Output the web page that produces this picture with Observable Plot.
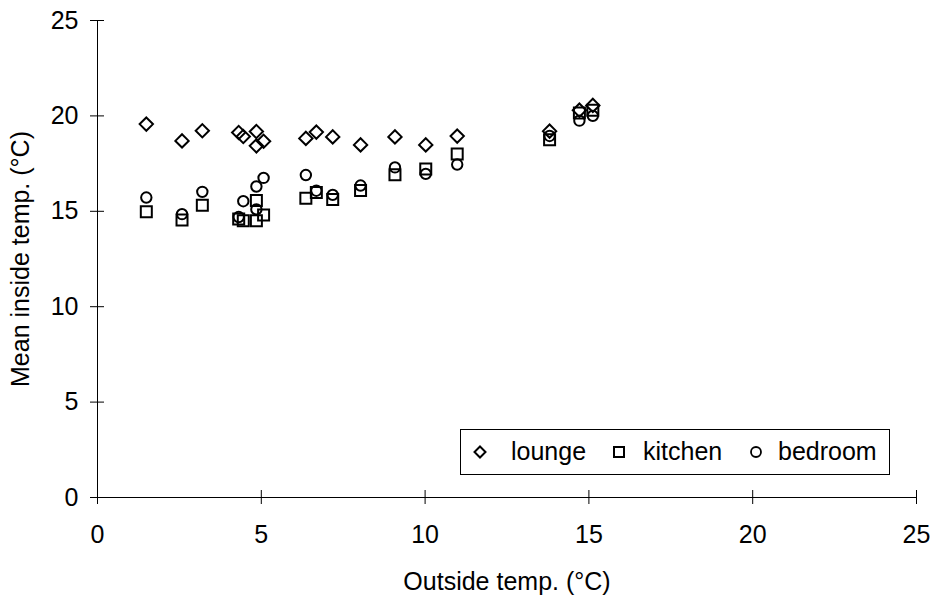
<!DOCTYPE html>
<html>
<head>
<meta charset="utf-8">
<script src="https://cdn.jsdelivr.net/npm/d3@7"></script>
<script src="https://cdn.jsdelivr.net/npm/@observablehq/plot@0.6"></script>
<style>
  body { margin: 0; background: #fff; font-family: "Liberation Sans", Arial, sans-serif; }
  #wrap { position: relative; width: 933px; height: 599px; }
  #legend { position: absolute; left: 460px; top: 429px; width: 428px; height: 44px;
    border: 1px solid #000; background: #fff; font-size: 25px; color: #000; }
  #legend .sym { position: absolute; top: 15px; width: 14px; height: 14px; }
  #legend .sym svg { display: block; }
  #legend .lab { position: absolute; top: 7px; line-height: 29px; white-space: nowrap; }
</style>
</head>
<body>
<div id="wrap"></div>
<script>
const outsideTemp = [1.49, 2.58, 3.20, 4.31, 4.45, 4.85, 4.85, 5.07, 6.36, 6.68, 7.18, 8.03, 9.08, 10.02, 10.98, 13.80, 14.71, 15.12];
const lounge      = [19.57, 18.69, 19.22, 19.13, 18.92, 19.18, 18.43, 18.67, 18.82, 19.15, 18.90, 18.48, 18.90, 18.48, 18.94, 19.20, 20.30, 20.55];
const kitchen     = [14.98, 14.55, 15.32, 14.60, 14.50, 15.57, 14.50, 14.80, 15.68, 15.98, 15.62, 16.09, 16.91, 17.22, 18.00, 18.75, 20.15, 20.30];
const bedroom     = [15.72, 14.85, 16.02, 14.70, 15.53, 16.30, 15.10, 16.75, 16.90, 16.08, 15.86, 16.35, 17.30, 16.96, 17.45, 18.95, 19.75, 20.00];
const seriesNames = ["lounge", "kitchen", "bedroom"];
const axisTicks = [0, 5, 10, 15, 20, 25];

const rows = outsideTemp.map((x, i) => ({x, lounge: lounge[i], kitchen: kitchen[i], bedroom: bedroom[i]}));

const font = "Liberation Sans, Arial, sans-serif";
const chart = Plot.plot({
  width: 933,
  height: 599,
  marginLeft: 97,
  marginRight: 17,
  marginTop: 20,
  marginBottom: 102,
  style: {fontFamily: font, fontSize: "25px", color: "#000", background: "#fff"},
  x: {domain: [0, 25]},
  y: {domain: [0, 25]},
  marks: [
    Plot.ruleX([0], {stroke: "#000", strokeWidth: 1}),
    Plot.ruleY([0], {stroke: "#000", strokeWidth: 1}),
    Plot.ruleY(axisTicks, {x1: 0, x2: 0, insetLeft: -7, insetRight: -7, stroke: "#000"}),
    Plot.ruleX(axisTicks, {y1: 0, y2: 0, insetTop: -7, insetBottom: -7, stroke: "#000"}),
    Plot.axisX(axisTicks, {tickSize: 0, tickPadding: 28, fontSize: 25, label: "Outside temp. (°C)", labelAnchor: "center", labelArrow: "none", labelOffset: 92}),
    Plot.axisY(axisTicks, {tickSize: 0, tickPadding: 19, fontSize: 25, label: "Mean inside temp. (°C)", labelAnchor: "center", labelArrow: "none", labelOffset: 86}),
    Plot.dot(rows, {x: "x", y: "bedroom", symbol: "circle", r: 5.2, stroke: "#000", strokeWidth: 2, fill: "none"}),
    Plot.dot(rows, {x: "x", y: "kitchen", symbol: "square2", r: 7, stroke: "#000", strokeWidth: 2, fill: "none"}),
    Plot.dot(rows, {x: "x", y: "lounge", symbol: "diamond2", r: 6, stroke: "#000", strokeWidth: 2, fill: "none"})
  ]
});
const wrap = document.getElementById("wrap");
wrap.appendChild(chart);

// legend
const legend = document.createElement("div");
legend.id = "legend";
const syms = {
  lounge: '<svg width="14" height="14"><path d="M7,1.5L12.5,7L7,12.5L1.5,7Z" fill="none" stroke="#000" stroke-width="2"/></svg>',
  kitchen: '<svg width="14" height="14"><rect x="2" y="2" width="10" height="10" fill="none" stroke="#000" stroke-width="2"/></svg>',
  bedroom: '<svg width="14" height="14"><circle cx="7" cy="7" r="5" fill="none" stroke="#000" stroke-width="1.8"/></svg>'
};
const symX = {lounge: 19, kitchen: 158, bedroom: 295};
const labX = {lounge: 50, kitchen: 182, bedroom: 317};
seriesNames.forEach(name => {
  const s = document.createElement("div");
  s.className = "sym";
  s.style.left = (symX[name] - 7) + "px";
  s.innerHTML = syms[name];
  legend.appendChild(s);
  const t = document.createElement("div");
  t.className = "lab";
  t.style.left = labX[name] + "px";
  t.textContent = name;
  legend.appendChild(t);
});
wrap.appendChild(legend);
</script>
</body>
</html>
